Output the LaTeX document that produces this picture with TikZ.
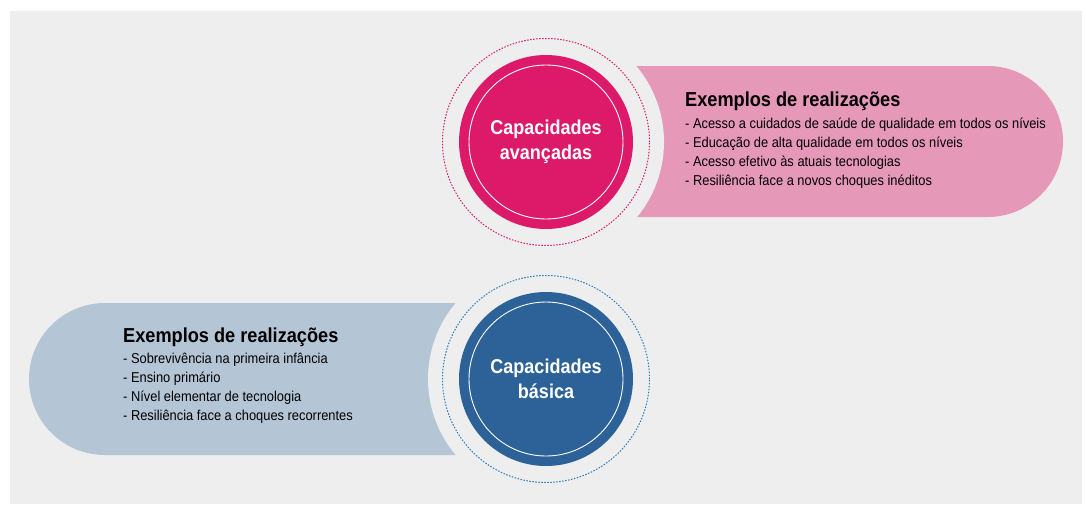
\documentclass[tikz,border=0pt]{standalone}
\usepackage{fontspec}
\setmainfont[FakeStretch=0.9]{Liberation Sans}
\definecolor{fundo}{HTML}{EDEEED}
\definecolor{magenta}{HTML}{DC1A69}
\definecolor{rosa}{HTML}{E698B8}
\definecolor{azul}{HTML}{2D6299}
\definecolor{azulclaro}{HTML}{B4C5D6}
\definecolor{azulponto}{HTML}{2B7BC0}
\tikzset{
  halo/.style={circle,fill=fundo,minimum size=236pt,inner sep=0pt},
  anel/.style={circle,draw,line width=1pt,dash pattern=on 1.5pt off 1.5pt,minimum size=207pt,inner sep=0pt},
  disco/.style={circle,minimum size=174pt,inner sep=0pt,text=white,align=center,
    font=\bfseries\fontsize{20}{25}\selectfont},
  borda/.style={circle,draw=white,line width=0.9pt,minimum size=154pt,inner sep=0pt},
  titulo/.style={anchor=base west,inner sep=0pt,font=\bfseries\fontsize{20.2}{22}\selectfont},
  lista/.style={anchor=base west,inner sep=0pt,align=left,font=\fontsize{14.3}{19}\selectfont}
}
\begin{document}
\begin{tikzpicture}[x=1pt,y=-1pt]
  \useasboundingbox (0,0) rectangle (1086,504);
  \fill[fundo] (10,11) rectangle (1082,504);
  \fill[rosa] (546,66) -- (987.5,66) arc (90:-90:75.5pt) -- (546,217) -- cycle;
  \fill[azulclaro] (546,303) -- (105,303) arc (90:270:76pt) -- (546,455) -- cycle;

  \node[halo] (haloA) at (546,142) {};
  \node[anel,draw=magenta] (anelA) at (546,142) {};
  \node[disco,fill=magenta] (avancadas) at (546,142) {Capacidades\\avançadas};
  \node[borda] (bordaA) at (546,142) {};

  \node[halo] (haloB) at (546,379) {};
  \node[anel,draw=azulponto] (anelB) at (546,379) {};
  \node[disco,fill=azul] (basica) at (546,379) {Capacidades\\básica};
  \node[borda] (bordaB) at (546,379) {};

  \node[titulo] (tituloA) at (685,106) {Exemplos de realizações};
  \node[lista] (listaA) at (685,185) {- Acesso a cuidados de saúde de qualidade em todos os níveis\\
    - Educação de alta qualidade em todos os níveis\\
    - Acesso efetivo às atuais tecnologias\\
    - Resiliência face a novos choques inéditos};

  \node[titulo] (tituloB) at (123,342) {Exemplos de realizações};
  \node[lista] (listaB) at (123,420) {- Sobrevivência na primeira infância\\
    - Ensino primário\\
    - Nível elementar de tecnologia\\
    - Resiliência face a choques recorrentes};
\end{tikzpicture}
\end{document}
